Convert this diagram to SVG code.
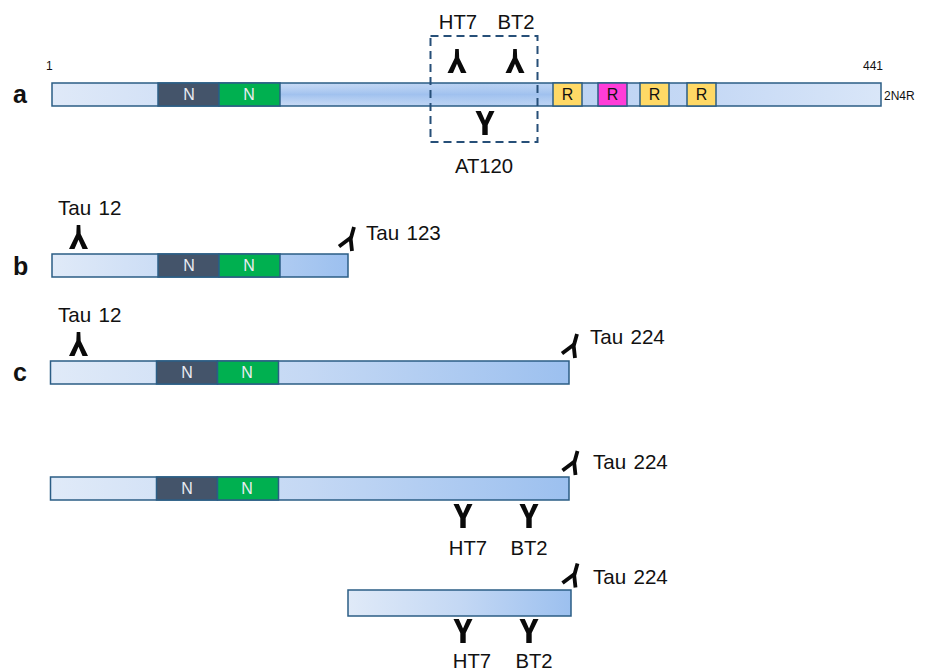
<svg xmlns="http://www.w3.org/2000/svg" width="930" height="672" viewBox="0 0 930 672">
<style>
text{font-family:"Liberation Sans",Arial,sans-serif;fill:#111}
.l{font-size:20.300px}
.t{font-size:20.600px;word-spacing:1.500px}
.s{font-size:12px}
.h{font-size:25px;font-weight:bold}
.bar{stroke:#2b5d85;stroke-width:1.5}
.seg{stroke:#2b5d85;stroke-width:1.5}
.n{font-size:16px;fill:#e8ecf2;text-anchor:middle}
.r{font-size:16px;fill:#111;text-anchor:middle}
.c{text-anchor:middle}
.ab{fill:#0a0a0a}
.abt{fill:none;stroke:#0a0a0a;stroke-width:3.800}
</style>
<defs>
<linearGradient id="gb"><stop offset="0" stop-color="#e0eaf8"/><stop offset="0.5" stop-color="#c4d8f4"/><stop offset="1" stop-color="#9cc0ef"/></linearGradient>
<linearGradient id="ga"><stop offset="0" stop-color="#dfe9f8"/><stop offset="0.26" stop-color="#c8daf5"/><stop offset="0.52" stop-color="#b7d0f2"/><stop offset="0.8" stop-color="#c6d9f5"/><stop offset="1" stop-color="#d9e6f8"/></linearGradient>
<linearGradient id="gm" x1="0" y1="0" x2="0" y2="1"><stop offset="0" stop-color="#a6c6f0" stop-opacity="0"/><stop offset="0.5" stop-color="#9dbfee" stop-opacity="0.9"/><stop offset="1" stop-color="#a6c6f0" stop-opacity="0"/></linearGradient>
<path id="abdn" class="ab" d="M-1.800,-12H1.800L2.200,-3L9.500,12H4L0,2.800L-4,12H-9.500L-2.200,-3Z"/>
<path id="abup" class="ab" d="M-9.500,-12H-4.200L0,-2.500L4.200,-12H9.500L2.700,2V12H-2.700V2Z"/>
<g id="abt"><path class="abt" d="M6,-12L2.700,0L4,12"/><path class="abt" d="M3,-1.500L-9,7.500"/></g>
</defs>
<g id="connectors"></g>
<g id="node-a">
<rect class="bar" x="52" y="83" width="829" height="23" fill="url(#ga)"/>
<rect x="280" y="84" width="272" height="21" fill="url(#gm)"/>
<rect class="seg" x="158" y="83" width="61" height="23" fill="#44546a"/><text class="n" x="189" y="100">N</text>
<rect class="seg" x="219" y="83" width="61" height="23" fill="#00b050"/><text class="n" x="249" y="100">N</text>
<rect class="seg" x="553" y="83" width="29" height="23" fill="#ffd966"/><text class="r" x="567.500" y="100">R</text>
<rect class="seg" x="598" y="83" width="29" height="23" fill="#ff3dd8"/><text class="r" x="612.500" y="100">R</text>
<rect class="seg" x="640" y="83" width="29" height="23" fill="#ffd966"/><text class="r" x="654.500" y="100">R</text>
<rect class="seg" x="687" y="83" width="29" height="23" fill="#ffd966"/><text class="r" x="701.500" y="100">R</text>
<rect x="430.500" y="36" width="107" height="106" fill="none" stroke="#264f78" stroke-width="2" stroke-dasharray="8 5"/>
<use href="#abdn" x="457" y="61"/><use href="#abdn" x="515" y="61"/><use href="#abup" x="485" y="123"/>
<text class="l c" x="458" y="29">HT7</text><text class="l c" x="516" y="29">BT2</text><text class="l c" x="484" y="173">AT120</text>
<text class="s" x="46" y="70">1</text><text class="s" x="863" y="70">441</text><text class="s" x="884" y="100">2N4R</text>
<text class="h" x="13" y="103">a</text>
</g>
<g id="node-b">
<rect class="bar" x="52" y="254" width="296" height="23" fill="url(#gb)"/>
<rect class="seg" x="158" y="254" width="61" height="23" fill="#44546a"/><text class="n" x="189" y="271">N</text>
<rect class="seg" x="219" y="254" width="61" height="23" fill="#00b050"/><text class="n" x="249" y="271">N</text>
<use href="#abdn" x="78.500" y="237"/><use href="#abt" x="348" y="239"/>
<text class="t" x="58" y="215">Tau 12</text><text class="t" x="366" y="240">Tau 123</text>
<text class="h" x="13" y="275">b</text>
</g>
<g id="node-c">
<rect class="bar" x="50.500" y="361" width="518.500" height="23" fill="url(#gb)"/>
<rect class="seg" x="156.500" y="361" width="61" height="23" fill="#44546a"/><text class="n" x="187" y="378">N</text>
<rect class="seg" x="217.500" y="361" width="61" height="23" fill="#00b050"/><text class="n" x="247" y="378">N</text>
<use href="#abdn" x="78.500" y="344"/><use href="#abt" x="571" y="346"/>
<text class="t" x="58" y="322">Tau 12</text><text class="t" x="590" y="344">Tau 224</text>
<text class="h" x="13" y="381">c</text>
</g>
<g id="node-d">
<rect class="bar" x="50.500" y="477" width="518.500" height="23" fill="url(#gb)"/>
<rect class="seg" x="156.500" y="477" width="61" height="23" fill="#44546a"/><text class="n" x="187" y="494">N</text>
<rect class="seg" x="217.500" y="477" width="61" height="23" fill="#00b050"/><text class="n" x="247" y="494">N</text>
<use href="#abt" x="571.500" y="463"/>
<use href="#abup" x="463" y="516"/><use href="#abup" x="529" y="516"/>
<text class="t" x="593" y="469">Tau 224</text>
<text class="l c" x="468" y="555">HT7</text><text class="l c" x="529" y="555">BT2</text>
</g>
<g id="node-e">
<rect class="bar" x="348" y="590" width="223" height="26" fill="url(#gb)"/>
<use href="#abt" x="571.500" y="575.500"/>
<use href="#abup" x="463" y="631"/><use href="#abup" x="529" y="631"/>
<text class="t" x="593" y="584">Tau 224</text>
<text class="l c" x="472" y="668">HT7</text><text class="l c" x="534" y="668">BT2</text>
</g>
</svg>
